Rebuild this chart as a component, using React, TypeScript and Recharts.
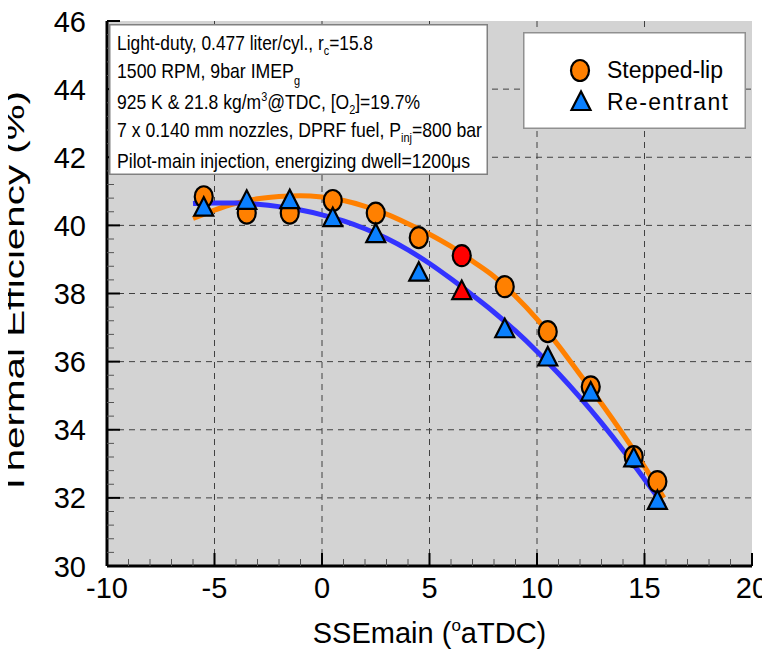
import React from "react";
import { ComposedChart, Line, Scatter, XAxis, YAxis, CartesianGrid, Label } from "recharts";

// measured points (SSEmain, thermal efficiency %)
const sseMain = [-5.5, -3.5, -1.5, 0.5, 2.5, 4.5, 6.5, 8.5, 10.5, 12.5, 14.5, 15.6];
const steppedLip = [40.84, 40.36, 40.36, 40.73, 40.36, 39.64, 39.11, 38.2, 36.88, 35.26, 33.21, 32.48];
const reEntrant = [40.55, 40.75, 40.77, 40.24, 39.77, 38.64, 38.1, 36.98, 36.15, 35.12, 33.19, 31.94];
const highlightX = 6.5;

// trend lines
const fitX = [-6, -5, -4, -3, -2, -1, 0, 1, 2, 3, 4, 5, 6, 7, 8, 9, 10, 11, 12, 13, 14, 15, 15.9];
const steppedFit = [40.2, 40.45, 40.65, 40.78, 40.85, 40.87, 40.83, 40.73, 40.56, 40.33, 40.05, 39.74, 39.38, 38.95, 38.5, 37.92, 37.25, 36.47, 35.62, 34.77, 33.87, 32.92, 32.0];
const reEntrantFit = [40.64, 40.66, 40.66, 40.62, 40.55, 40.45, 40.31, 40.13, 39.9, 39.62, 39.28, 38.88, 38.43, 37.95, 37.45, 36.9, 36.3, 35.65, 34.95, 34.2, 33.4, 32.55, 31.78];

const xMajor = [-10, -5, 0, 5, 10, 15, 20];
const yMajor = [30, 32, 34, 36, 38, 40, 42, 44, 46];
const xGrid = [-5, 0, 5, 10, 15];
const yGrid = [32, 34, 36, 38, 40, 42, 44];

const subdivide = (m: number[], n: number) =>
  m.flatMap((v, i) =>
    i === m.length - 1 ? [v] : Array.from({ length: n }, (_, k) => +(v + ((m[i + 1] - v) * k) / n).toFixed(3))
  );
const xTicks = subdivide(xMajor, 5);
const yTicks = subdivide(yMajor, 5);

const steppedPts = sseMain.map((x, i) => ({ x, y: steppedLip[i] }));
const reEntrantPts = sseMain.map((x, i) => ({ x, y: reEntrant[i] }));
const steppedLine = fitX.map((x, i) => ({ x, y: steppedFit[i] }));
const reEntrantLine = fitX.map((x, i) => ({ x, y: reEntrantFit[i] }));

const font = "'Liberation Sans', Arial, Helvetica, sans-serif";
const orange = "#ff8000";
const triBlue = "#0a80ff";
const lineBlue = "#3333ff";
const red = "#ff0000";
const MAJ = 13;
const MIN = 7;

function CircleMark({ cx, cy, payload }: any) {
  const fill = payload && payload.x === highlightX ? red : orange;
  return <ellipse cx={cx} cy={cy} rx={9} ry={10.5} fill={fill} stroke="#000" strokeWidth={2.2} />;
}

function TriMark({ cx, cy, payload }: any) {
  const fill = payload && payload.x === highlightX ? red : triBlue;
  return (
    <polygon
      points={`${cx},${cy - 9.5} ${cx - 9.5},${cy + 9} ${cx + 9.5},${cy + 9}`}
      fill={fill}
      stroke="#000"
      strokeWidth={2.2}
    />
  );
}

const isMajor = (list: number[], v: number) => list.includes(v);

function BottomTick({ x, y, payload }: any) {
  const major = isMajor(xMajor, payload.value);
  return (
    <g>
      <line x1={x} x2={x} y1={y} y2={y - (major ? MAJ : MIN)} stroke={major ? "#000" : "#555"} strokeWidth={major ? 2 : 1} />
      {major && (
        <text x={x} y={y + 32} textAnchor="middle" fontSize={29} fontFamily={font} fill="#000">
          {payload.value}
        </text>
      )}
    </g>
  );
}

function TopTick({ x, y, payload }: any) {
  const major = isMajor(xMajor, payload.value);
  return <line x1={x} x2={x} y1={y} y2={y + (major ? MAJ : MIN)} stroke={major ? "#000" : "#555"} strokeWidth={major ? 2 : 1} />;
}

function LeftTick({ x, y, payload }: any) {
  const major = isMajor(yMajor, payload.value);
  return (
    <g>
      <line x1={x} x2={x + (major ? MAJ : MIN)} y1={y} y2={y} stroke={major ? "#000" : "#555"} strokeWidth={major ? 2 : 1} />
      {major && (
        <text x={x - 21} y={y + 10.5} textAnchor="end" fontSize={29} fontFamily={font} fill="#000">
          {payload.value}
        </text>
      )}
    </g>
  );
}

function RightTick({ x, y, payload }: any) {
  const major = isMajor(yMajor, payload.value);
  return <line x1={x} x2={x - (major ? MAJ : MIN)} y1={y} y2={y} stroke={major ? "#000" : "#555"} strokeWidth={major ? 2 : 1} />;
}

function XTitle({ viewBox }: any) {
  const { x, y, width } = viewBox;
  return (
    <text x={x + width / 2} y={y + 77} textAnchor="middle" fontSize={29} fontFamily={font} fill="#000">
      SSEmain (<tspan dy={-12} fontSize={17}>o</tspan>
      <tspan dy={12}>aTDC)</tspan>
    </text>
  );
}

// y title: baseline sits 24px from the left edge of the window
function YTitle({ viewBox }: any) {
  const cy = viewBox.y + viewBox.height / 2;
  return (
    <g transform={`translate(24 ${cy}) rotate(-90)`}>
      <text
        x={0}
        y={0}
        textAnchor="middle"
        fontSize={28}
        fontFamily={font}
        fill="#000"
        textLength={405}
        lengthAdjust="spacingAndGlyphs"
      >
        Thermal Efficiency (%)
      </text>
    </g>
  );
}

const axisLine = { stroke: "#000", strokeWidth: 3 };
const sub = { fontSize: 13 };

function InfoBox() {
  const t = { x: 8, fontSize: 21, fontFamily: font, fill: "#000", lengthAdjust: "spacingAndGlyphs" as const };
  return (
    <svg width={379} height={151} style={{ position: "absolute", left: 109, top: 24, overflow: "visible" }}>
      <rect x={0.75} y={0.75} width={377.5} height={149.5} fill="#fff" stroke="#808080" strokeWidth={1.5} />
      <text {...t} y={26} textLength={256}>
        Light-duty, 0.477 liter/cyl., r<tspan dy={5} {...sub}>c</tspan>
        <tspan dy={-5}>=15.8</tspan>
      </text>
      <text {...t} y={54} textLength={183}>
        1500 RPM, 9bar IMEP<tspan dy={7} {...sub}>g</tspan>
      </text>
      <text {...t} y={85} textLength={303}>
        925 K &amp; 21.8 kg/m<tspan dy={-8} {...sub}>3</tspan>
        <tspan dy={8}>@TDC, [O</tspan>
        <tspan dy={5} {...sub}>2</tspan>
        <tspan dy={-5}>]=19.7%</tspan>
      </text>
      <text {...t} y={113} textLength={365}>
        7 x 0.140 mm nozzles, DPRF fuel, P<tspan dy={5} {...sub}>inj</tspan>
        <tspan dy={-5}>=800 bar</tspan>
      </text>
      <text {...t} y={144} textLength={353}>
        Pilot-main injection, energizing dwell=1200μs
      </text>
    </svg>
  );
}

function LegendBox() {
  const t = { x: 84, fontSize: 23, fontFamily: font, fill: "#000", lengthAdjust: "spacing" as const };
  return (
    <svg width={223} height={97} style={{ position: "absolute", left: 523, top: 32 }}>
      <rect x={0.75} y={0.75} width={221.5} height={95.5} fill="#fff" stroke="#909090" strokeWidth={1.5} />
      <CircleMark cx={57} cy={38.5} />
      <text {...t} y={46} textLength={116}>Stepped-lip</text>
      <TriMark cx={58} cy={69} />
      <text {...t} y={78} textLength={121}>Re-entrant</text>
    </svg>
  );
}

export default function App() {
  // negative margin cancels the body margin so the chart uses the full window
  return (
    <div style={{ position: "relative", width: 770, height: 650, margin: "-8px 0 0 -8px" }}>
      <ComposedChart width={770} height={650} margin={{ top: 21, right: 18, bottom: 0, left: 0 }}>
        <CartesianGrid
          xAxisId="x"
          yAxisId="y"
          verticalValues={xGrid}
          horizontalValues={yGrid}
          stroke="#404040"
          strokeDasharray="6 5"
          fill="#d3d3d3"
          fillOpacity={1}
        />
        <XAxis
          xAxisId="x"
          dataKey="x"
          type="number"
          domain={[-10, 20]}
          allowDataOverflow
          ticks={xTicks}
          interval={0}
          tickSize={0}
          tickMargin={0}
          tickLine={false}
          height={84}
          axisLine={axisLine}
          tick={BottomTick}
        >
          <Label content={XTitle} />
        </XAxis>
        <XAxis
          xAxisId="top"
          orientation="top"
          type="number"
          domain={[-10, 20]}
          allowDataOverflow
          ticks={xTicks}
          interval={0}
          tickSize={0}
          tickMargin={0}
          tickLine={false}
          height={0}
          axisLine={axisLine}
          tick={TopTick}
        />
        <YAxis
          yAxisId="y"
          dataKey="y"
          type="number"
          domain={[30, 46]}
          allowDataOverflow
          ticks={yTicks}
          interval={0}
          tickSize={0}
          tickMargin={0}
          tickLine={false}
          width={107}
          axisLine={axisLine}
          tick={LeftTick}
        >
          <Label content={YTitle} />
        </YAxis>
        <YAxis
          yAxisId="right"
          orientation="right"
          type="number"
          domain={[30, 46]}
          allowDataOverflow
          ticks={yTicks}
          interval={0}
          tickSize={0}
          tickMargin={0}
          tickLine={false}
          width={0}
          axisLine={axisLine}
          tick={RightTick}
        />
        <Line xAxisId="x" yAxisId="y" data={steppedLine} dataKey="y" type="monotone" stroke={orange} strokeWidth={5} dot={false} isAnimationActive={false} />
        <Line xAxisId="x" yAxisId="y" data={reEntrantLine} dataKey="y" type="monotone" stroke={lineBlue} strokeWidth={5} dot={false} isAnimationActive={false} />
        <Scatter xAxisId="x" yAxisId="y" data={steppedPts} dataKey="y" shape={CircleMark} isAnimationActive={false} />
        <Scatter xAxisId="x" yAxisId="y" data={reEntrantPts} dataKey="y" shape={TriMark} isAnimationActive={false} />
      </ComposedChart>
      <InfoBox />
      <LegendBox />
    </div>
  );
}
